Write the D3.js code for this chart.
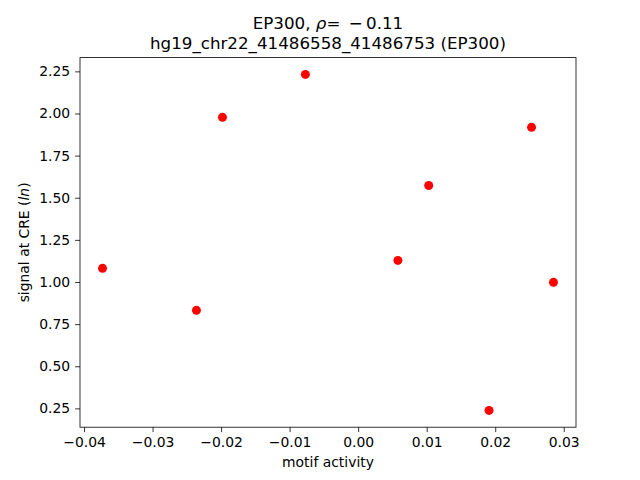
<!DOCTYPE html>
<html>
<head>
<meta charset="utf-8">
<script src="https://cdn.jsdelivr.net/npm/d3@7"></script>
<style>
  body { margin: 0; background: #fff; }
  svg { display: block; font-family: "DejaVu Sans", sans-serif; }
</style>
</head>
<body>
<div id="chart"></div>
<script>
// values
const motifActivity = [-0.0373, -0.0236, -0.0198, -0.0077, 0.0058, 0.0103, 0.0191, 0.0253, 0.0285];
const signalAtCRE   = [1.081, 0.832, 1.977, 2.232, 1.128, 1.573, 0.238, 1.918, 0.998];
const xTicks = [-0.04, -0.03, -0.02, -0.01, 0.00, 0.01, 0.02, 0.03];
const yTicks = [0.25, 0.50, 0.75, 1.00, 1.25, 1.50, 1.75, 2.00, 2.25];

const width = 640, height = 480;
const margin = { top: 57.6, right: 64, bottom: 52.8, left: 80 };
const innerW = width - margin.left - margin.right,
    innerH = height - margin.top - margin.bottom;

// matplotlib style 5% padding around the data
const pad = (ext) => {
    const d = (ext[1] - ext[0]) * 0.05;
    return [ext[0] - d, ext[1] + d];
};

const x = d3.scaleLinear()
    .domain(pad(d3.extent(motifActivity)))
    .range([margin.left, margin.left + innerW]);

const y = d3.scaleLinear()
    .domain(pad(d3.extent(signalAtCRE)))
    .range([margin.top + innerH, margin.top]);

const minus = s => s.replace('-', '\u2212');

const svg = d3.select('#chart').append('svg')
    .attr('width', width)
    .attr('height', height);

const xAxis = d3.axisBottom(x)
    .tickValues(xTicks)
    .tickSize(4.9)
    .tickPadding(4.9)
    .tickFormat(d => minus(d3.format('.2f')(d)));

const yAxis = d3.axisLeft(y)
    .tickValues(yTicks)
    .tickSize(4.9)
    .tickPadding(4.9)
    .tickFormat(d3.format('.2f'));

const gx = svg.append('g')
    .attr('transform', `translate(0,${margin.top + innerH})`)
    .call(xAxis);

const gy = svg.append('g')
    .attr('transform', `translate(${margin.left},0)`)
    .call(yAxis);

[gx, gy].forEach(g => {
    g.select('.domain').remove();
    g.selectAll('.tick line').attr('stroke', '#000').attr('stroke-width', 0.8);
    g.selectAll('.tick text')
        .attr('fill', '#000')
        .style('font-size', '13.9px')
        .style('font-family', '"DejaVu Sans", sans-serif');
});

// frame
svg.append('rect')
    .attr('x', margin.left)
    .attr('y', margin.top)
    .attr('width', innerW)
    .attr('height', innerH)
    .attr('fill', 'none')
    .attr('stroke', '#000')
    .attr('stroke-width', 0.8);

svg.append('g')
    .selectAll('circle')
    .data(motifActivity.map((v, i) => [v, signalAtCRE[i]]))
    .join('circle')
    .attr('cx', d => x(d[0]))
    .attr('cy', d => y(d[1]))
    .attr('r', 4.5)
    .attr('fill', '#ff0000');

const cx = margin.left + innerW / 2;

// title, two lines
const t1 = svg.append('text')
    .attr('x', cx)
    .attr('y', 29)
    .attr('text-anchor', 'middle')
    .style('font-size', '16.7px');
t1.append('tspan').text('EP300, ');
t1.append('tspan').style('font-style', 'italic').text('\u03c1');
t1.append('tspan').text('=\u2002\u2212\u20090.11');

svg.append('text')
    .attr('x', cx)
    .attr('y', 49)
    .attr('text-anchor', 'middle')
    .style('font-size', '16.7px')
    .text('hg19_chr22_41486558_41486753 (EP300)');

svg.append('text')
    .attr('x', cx)
    .attr('y', 467)
    .attr('text-anchor', 'middle')
    .style('font-size', '13.9px')
    .text('motif activity');

const yl = svg.append('text')
    .attr('transform', `translate(29,${margin.top + innerH / 2}) rotate(-90)`)
    .attr('text-anchor', 'middle')
    .style('font-size', '13.9px');
yl.append('tspan').text('signal at CRE (');
yl.append('tspan').style('font-style', 'italic').text('ln');
yl.append('tspan').text(')');
</script>
</body>
</html>
